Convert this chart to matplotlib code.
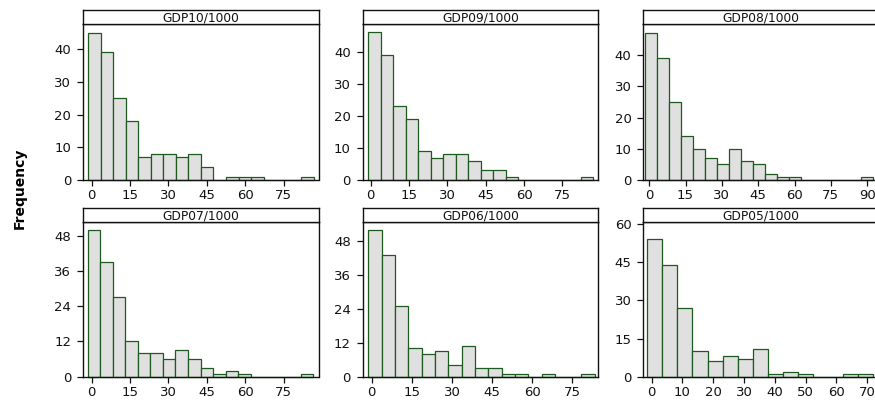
"""
gdp_hist.py - Histograms of GDP (in thousands) for 2005-2010.

Six panels laid out by year, each with its own strip title, sharing a
single "Frequency" label on the left.
"""

import matplotlib
matplotlib.use("Agg")
import matplotlib.pyplot as plt
from matplotlib.ticker import FixedLocator

# --- Panel titles ---
TITLES = ["GDP10/1000", "GDP09/1000", "GDP08/1000",
          "GDP07/1000", "GDP06/1000", "GDP05/1000"]

# --- Bin counts per panel ---
COUNTS_10 = [45, 39, 25, 18, 7, 8, 8, 7, 8, 4, 0, 1, 1, 1, 0, 0, 0, 1]
COUNTS_09 = [46, 39, 23, 19, 9, 7, 8, 8, 6, 3, 3, 1, 0, 0, 0, 0, 0, 1]
COUNTS_08 = [47, 39, 25, 14, 10, 7, 5, 10, 6, 5, 2, 1, 1, 0, 0, 0, 0, 0, 1]
COUNTS_07 = [50, 39, 27, 12, 8, 8, 6, 9, 6, 3, 1, 2, 1, 0, 0, 0, 0, 1]
COUNTS_06 = [52, 43, 25, 10, 8, 9, 4, 11, 3, 3, 1, 1, 0, 1, 0, 0, 1]
COUNTS_05 = [54, 44, 27, 10, 6, 8, 7, 11, 1, 2, 1, 0, 0, 1, 1]

# --- First bin edge and bin width per panel ---
BIN_START = [-1.33, -0.94, -1.76, -1.57, -1.25, -1.40]
BIN_WIDTH = [4.89, 4.89, 4.95, 4.90, 4.98, 4.89]

# --- Axis ticks per panel ---
XTICKS_15 = [0, 15, 30, 45, 60, 75]
XTICKS_90 = [0, 15, 30, 45, 60, 75, 90]
XTICKS_10 = [0, 10, 20, 30, 40, 50, 60, 70]
YTICKS_10 = [0, 10, 20, 30, 40]
YTICKS_12 = [0, 12, 24, 36, 48]
YTICKS_15 = [0, 15, 30, 45, 60]

# --- Axis ranges per panel ---
XLIMS = [(-3.4, 88.6), (-3.1, 89.0), (-2.45, 94.8),
         (-3.4, 88.6), (-3.4, 84.7), (-2.7, 73.8)]
YTOPS = [47.7, 48.6, 50.0, 52.7, 54.8, 61.0]

FILL = "#e0e0e0"
EDGE = "#1d5a1d"


def draw_panel(fig, rect, strip_h, title, counts, start, width,
               xticks, yticks, xlim, ytop):
    """Draw one histogram panel with a boxed strip title above it."""
    left, bottom, w, h = rect
    ax = fig.add_axes([left, bottom, w, h])
    lefts = [start + i * width for i in range(len(counts))]
    ax.bar(lefts, counts, width=width, align="edge", color=FILL,
           edgecolor=EDGE, linewidth=0.9, clip_on=False, zorder=2)
    ax.set_xlim(*xlim)
    ax.set_ylim(0, ytop)
    ax.xaxis.set_major_locator(FixedLocator(xticks))
    ax.yaxis.set_major_locator(FixedLocator(yticks))
    ax.tick_params(axis="both", direction="out", length=4.5, width=0.9,
                   labelsize=9.5, colors="#111111")
    ax.tick_params(axis="y", pad=4)
    ax.tick_params(axis="x", pad=2)
    for sp in ax.spines.values():
        sp.set_linewidth(1.0)
        sp.set_color("#111111")
        sp.set_zorder(3)

    strip = fig.add_axes([left, bottom + h, w, strip_h])
    strip.set_xticks([])
    strip.set_yticks([])
    for sp in strip.spines.values():
        sp.set_linewidth(1.0)
        sp.set_color("#111111")
    strip.text(0.5, 0.45, title, ha="center", va="center", fontsize=8.8,
               color="#111111", transform=strip.transAxes)
    return ax


def main():
    fig = plt.figure(figsize=(8.75, 4), dpi=100)

    counts = [COUNTS_10, COUNTS_09, COUNTS_08, COUNTS_07, COUNTS_06, COUNTS_05]
    xticks = [XTICKS_15, XTICKS_15, XTICKS_90, XTICKS_15, XTICKS_15, XTICKS_10]
    yticks = [YTICKS_10, YTICKS_10, YTICKS_10, YTICKS_12, YTICKS_12, YTICKS_15]

    col_left = [83 / 875, 362.7 / 875, 643.3 / 875]
    col_w = 235.5 / 875
    # (bottom, height, strip height) for each row in figure fractions
    rows = [(1 - 180 / 400, 156 / 400, 14 / 400),
            (1 - 376.7 / 400, 155 / 400, 13.4 / 400)]

    for i in range(6):
        r, c = divmod(i, 3)
        bottom, h, sh = rows[r]
        draw_panel(fig, (col_left[c], bottom, col_w, h), sh, TITLES[i],
                   counts[i], BIN_START[i], BIN_WIDTH[i],
                   xticks[i], yticks[i], XLIMS[i], YTOPS[i])

    fig.text(20 / 875, 1 - 188 / 400, "Frequency", rotation=90,
             ha="center", va="center", fontsize=10, fontweight="bold")

    fig.savefig("out.png", dpi=100)


if __name__ == "__main__":
    main()
